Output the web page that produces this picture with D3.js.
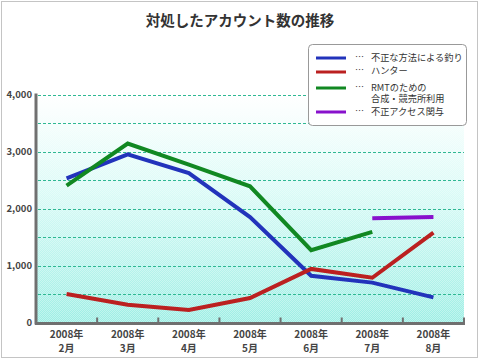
<!DOCTYPE html>
<html>
<head>
<meta charset="utf-8">
<script src="https://cdn.jsdelivr.net/npm/d3@7"></script>
<style>
  body { margin:0; background:#fff; }
  svg { display:block; font-family:"Noto Sans CJK JP", sans-serif; }
</style>
</head>
<body>
<div id="chart"></div>
<script>
// data
var months = ["2008年\n2月","2008年\n3月","2008年\n4月","2008年\n5月","2008年\n6月","2008年\n7月","2008年\n8月"];
var fishing = [2530, 2950, 2620, 1850, 820, 700, 440];
var hunter  = [500, 310, 220, 430, 940, 785, 1575];
var rmt     = [2400, 3140, 2770, 2390, 1270, 1590, null];
var illegal = [null, null, null, null, null, 1830, 1850];
var seriesNames = ["不正な方法による釣り", "ハンター", "RMTのための\n合成・競売所利用", "不正アクセス関与"];
var seriesColors = ["#2233bb", "#bb2020", "#118822", "#8811cc"];
var yTicks = [0, 1000, 2000, 3000, 4000];

var W = 480, H = 360;
var svg = d3.select("#chart").append("svg").attr("width", W).attr("height", H);

// outer frame
svg.append("rect").attr("x",1.5).attr("y",1.5).attr("width",476).attr("height",356)
  .attr("fill","#fff").attr("stroke","#c4c4c4");

svg.append("text").attr("x",240).attr("y",26).attr("text-anchor","middle")
  .attr("font-size",14.5).attr("font-weight","bold").attr("fill","#333")
  .text("対処したアカウント数の推移");

var x = d3.scaleBand().domain(months).range([36, 464]);
var y = d3.scaleLinear().domain([0, 4000]).range([322.5, 94.5]);

var defs = svg.append("defs");
var grad = defs.append("linearGradient").attr("id","bg").attr("x1",0).attr("y1",0).attr("x2",0).attr("y2",1);
grad.append("stop").attr("offset","0%").attr("stop-color","#ffffff");
grad.append("stop").attr("offset","40%").attr("stop-color","#dcfbf7");
grad.append("stop").attr("offset","100%").attr("stop-color","#9ceee4");
var pat = defs.append("pattern").attr("id","chk").attr("width",2).attr("height",2)
  .attr("patternUnits","userSpaceOnUse");
pat.append("rect").attr("width",1).attr("height",1).attr("fill","#fff").attr("opacity",0.35);
pat.append("rect").attr("x",1).attr("y",1).attr("width",1).attr("height",1).attr("fill","#fff").attr("opacity",0.35);

svg.append("rect").attr("x",37).attr("y",y(4000)).attr("width",427).attr("height",y(0)-y(4000))
  .attr("fill","url(#bg)");
svg.append("rect").attr("x",37).attr("y",y(4000)).attr("width",427).attr("height",y(0)-y(4000))
  .attr("fill","url(#chk)");

// dashed grid every 500
svg.append("g").selectAll("line").data(d3.range(500, 4001, 500)).enter().append("line")
  .attr("x1",38).attr("x2",464)
  .attr("y1",function(d){ return Math.round(y(d))+0.5; })
  .attr("y2",function(d){ return Math.round(y(d))+0.5; })
  .attr("stroke","#2fb893").attr("stroke-dasharray","3,2");

// y axis
var yAxis = svg.append("g").attr("transform","translate(36,0)")
  .call(d3.axisLeft(y).tickValues(yTicks).tickSize(0).tickPadding(4).tickFormat(d3.format(",")));
yAxis.select(".domain").remove();
yAxis.selectAll("text").attr("font-size",9.5).attr("font-weight","bold").attr("fill","#444")
  .attr("font-family","'Noto Sans CJK JP', sans-serif");
svg.append("line").attr("x1",36).attr("x2",36).attr("y1",y(4000)-1).attr("y2",y(0)+2)
  .attr("stroke","#707070").attr("stroke-width",3);

// x axis
svg.append("line").attr("x1",35).attr("x2",465).attr("y1",y(0)+1).attr("y2",y(0)+1)
  .attr("stroke","#707070").attr("stroke-width",3);
svg.append("g").selectAll("line").data(months.slice(1).concat([null])).enter().append("line")
  .attr("x1",function(d){ return d ? x(d) : 464; })
  .attr("x2",function(d){ return d ? x(d) : 464; })
  .attr("y1",y(0)-5).attr("y2",y(0))
  .attr("stroke","#707070").attr("stroke-width",2);
var xl = svg.append("g").selectAll("text").data(months).enter().append("text")
  .attr("x",function(d){ return x(d) + x.bandwidth()/2; })
  .attr("y",338).attr("text-anchor","middle")
  .attr("font-size",10).attr("font-weight","bold").attr("fill","#444");
xl.each(function(d){
  var parts = d.split("\n"), t = d3.select(this);
  parts.forEach(function(p, i){
    t.append("tspan").attr("x", x(d) + x.bandwidth()/2).attr("dy", i ? 14 : 0).text(p);
  });
});

// lines
var allSeries = [fishing, hunter, rmt, illegal];
var line = d3.line()
  .defined(function(d){ return d != null; })
  .x(function(d, i){ return x(months[i]) + x.bandwidth()/2; })
  .y(function(d){ return y(d); });
svg.append("g").selectAll("path").data(allSeries).enter().append("path")
  .attr("d", line).attr("fill","none")
  .attr("stroke",function(d, i){ return seriesColors[i]; })
  .attr("stroke-width",4);

// legend
svg.append("rect").attr("x",308.5).attr("y",44.5).attr("width",158).attr("height",81)
  .attr("rx",4).attr("fill","#fff").attr("stroke","#999");
var legY = [58, 72, 88, 112];
var txtY = [61, 74, 90.5, 115];
var leg = svg.append("g").selectAll("g").data(seriesNames).enter().append("g");
leg.append("line").attr("x1",316).attr("x2",346)
  .attr("y1",function(d, i){ return legY[i]; }).attr("y2",function(d, i){ return legY[i]; })
  .attr("stroke",function(d, i){ return seriesColors[i]; }).attr("stroke-width",3);
leg.append("text").attr("x",355).attr("y",function(d, i){ return txtY[i] - 1; })
  .attr("font-size",9).attr("fill","#333").text("…");
leg.append("text").attr("font-size",9.2).attr("fill","#333")
  .each(function(d, i){
    var t = d3.select(this);
    d.split("\n").forEach(function(p, j){
      t.append("tspan").attr("x",371).attr("y", txtY[i] + j*11.5).text(p);
    });
  });
</script>
</body>
</html>
